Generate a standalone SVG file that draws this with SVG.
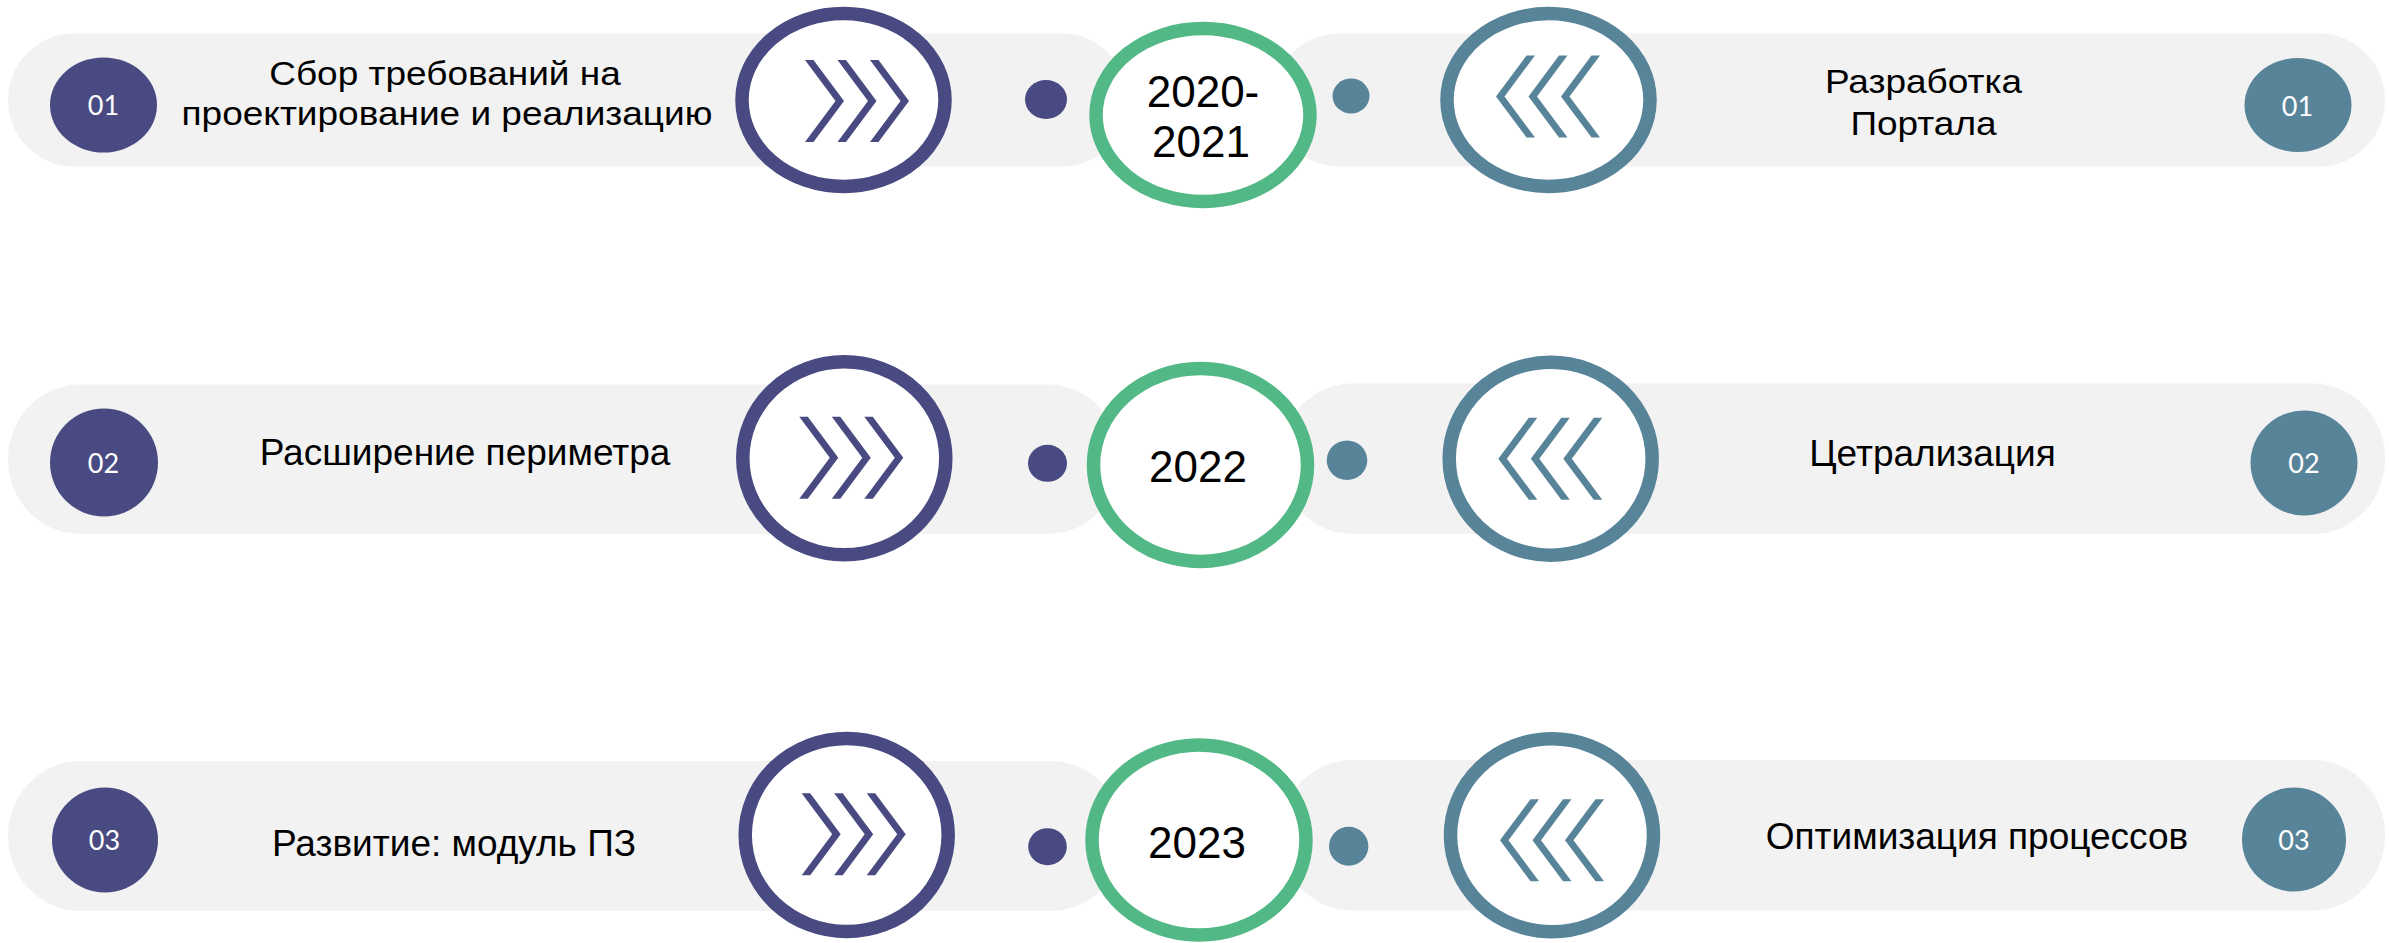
<svg xmlns="http://www.w3.org/2000/svg" xmlns:xlink="http://www.w3.org/1999/xlink" width="2389" height="943" viewBox="0 0 2389 943">
<style>
.pill{fill:#F2F2F2}
.pu{fill:#494A82}
.te{fill:#58849A}
.ringP{fill:#FFFFFF;stroke:#494A82;stroke-width:13.5}
.ringT{fill:#FFFFFF;stroke:#58849A;stroke-width:13.5}
.ringG{fill:#FFFFFF;stroke:#52B886;stroke-width:13.5}
.lbl{font-family:"Liberation Sans",Arial,sans-serif;font-size:37px;fill:#000000;text-anchor:middle}
.yr{font-family:"Liberation Sans",Arial,sans-serif;font-size:44px;fill:#000000;text-anchor:middle}
.num{font-family:Lato,"Open Sans",sans-serif;font-size:27px;fill:#FFFFFF;text-anchor:middle}
</style>
<defs>
<g id="chevR">
<polygon points="0,0 8.5,0 39,41 8.5,82 0,82 30.5,41"/>
<polygon points="32.5,0 41,0 71.5,41 41,82 32.5,82 63,41"/>
<polygon points="65,0 73.5,0 104,41 73.5,82 65,82 95.5,41"/>
</g>
<g id="chevL">
<polygon points="39,0 30.5,0 0,41 30.5,82 39,82 8.5,41"/>
<polygon points="71.5,0 63,0 32.5,41 63,82 71.5,82 41,41"/>
<polygon points="104,0 95.5,0 65,41 95.5,82 104,82 73.5,41"/>
</g>
</defs>
<rect width="2389" height="943" fill="#FFFFFF"/>

<!-- Row 1 -->
<g id="row1-left">
<rect class="pill" x="8" y="33.5" width="1120" height="133" rx="66" ry="66.5"/>
<ellipse class="pu" cx="103.5" cy="105" rx="53.5" ry="47.5"/>
<text class="num" x="103.5" y="115">01</text>
<text class="lbl" transform="translate(445,85) scale(1,0.9)">Сбор требований на</text>
<text class="lbl" transform="translate(447,125) scale(1,0.9)">проектирование и реализацию</text>
</g>
<g id="row1-left-chevron">
<ellipse class="ringP" cx="843.5" cy="100" rx="101.5" ry="86.5"/>
<use xlink:href="#chevR" href="#chevR" class="pu" transform="translate(805,60)"/>
</g>
<g id="row1-right">
<rect class="pill" x="1273" y="33.5" width="1112" height="133" rx="66" ry="66.5"/>
<ellipse class="te" cx="2298" cy="105" rx="53.5" ry="47"/>
<text class="num" x="2297.5" y="115.5">01</text>
<text class="lbl" transform="translate(1923.5,92.7) scale(1,0.9)">Разработка</text>
<text class="lbl" transform="translate(1923.5,135) scale(1,0.9)">Портала</text>
</g>
<g id="row1-right-chevron">
<ellipse class="ringT" cx="1548.5" cy="100" rx="101.5" ry="86.5"/>
<use xlink:href="#chevL" href="#chevL" class="te" transform="translate(1496,55.5)"/>
</g>
<g id="row1-dots">
<ellipse class="pu" cx="1046" cy="99.5" rx="21" ry="19.5"/>
<ellipse class="te" cx="1351" cy="96" rx="18.5" ry="17.5"/>
</g>
<g id="row1-year">
<ellipse class="ringG" cx="1203" cy="115" rx="107" ry="86.5"/>
<text class="yr" x="1203" y="106.7">2020-</text>
<text class="yr" x="1201" y="156.7">2021</text>
</g>

<!-- Row 2 -->
<g id="row2-left">
<rect class="pill" x="8" y="384.5" width="1112" height="149.5" rx="72" ry="74.75"/>
<ellipse class="pu" cx="104" cy="462.5" rx="54" ry="54"/>
<text class="num" x="103.5" y="472.5">02</text>
<text class="lbl" x="465" y="465">Расширение периметра</text>
</g>
<g id="row2-left-chevron">
<ellipse class="ringP" cx="844.3" cy="458.3" rx="101.5" ry="96.5"/>
<use xlink:href="#chevR" href="#chevR" class="pu" transform="translate(799.3,416.7)"/>
</g>
<g id="row2-right">
<rect class="pill" x="1280" y="383.5" width="1105" height="150.5" rx="72" ry="75"/>
<ellipse class="te" cx="2304" cy="463" rx="53.5" ry="52.5"/>
<text class="num" x="2304" y="473">02</text>
<text class="lbl" x="1932.5" y="466">Цетрализация</text>
</g>
<g id="row2-right-chevron">
<ellipse class="ringT" cx="1550.7" cy="458.7" rx="101.5" ry="96.5"/>
<use xlink:href="#chevL" href="#chevL" class="te" transform="translate(1498.3,417.7)"/>
</g>
<g id="row2-dots">
<ellipse class="pu" cx="1047.5" cy="463.3" rx="19.5" ry="18.5"/>
<ellipse class="te" cx="1347" cy="460.3" rx="20.3" ry="19.7"/>
</g>
<g id="row2-year">
<ellipse class="ringG" cx="1200.5" cy="465" rx="107" ry="96.5"/>
<text class="yr" x="1198" y="481.7">2022</text>
</g>

<!-- Row 3 -->
<g id="row3-left">
<rect class="pill" x="8" y="761" width="1115" height="150" rx="72" ry="75"/>
<ellipse class="pu" cx="105" cy="840" rx="53" ry="52.5"/>
<text class="num" x="104.5" y="850">03</text>
<text class="lbl" x="454" y="856">Развитие: модуль ПЗ</text>
</g>
<g id="row3-left-chevron">
<ellipse class="ringP" cx="846.7" cy="835" rx="101.5" ry="96.5"/>
<use xlink:href="#chevR" href="#chevR" class="pu" transform="translate(801.7,793.3)"/>
</g>
<g id="row3-right">
<rect class="pill" x="1280" y="760" width="1105" height="150.5" rx="72" ry="75"/>
<ellipse class="te" cx="2294" cy="839.5" rx="52" ry="52"/>
<text class="num" x="2294" y="849.5">03</text>
<text class="lbl" x="1977" y="849">Оптимизация процессов</text>
</g>
<g id="row3-right-chevron">
<ellipse class="ringT" cx="1552" cy="835.3" rx="101.5" ry="96.5"/>
<use xlink:href="#chevL" href="#chevL" class="te" transform="translate(1500,799.3)"/>
</g>
<g id="row3-dots">
<ellipse class="pu" cx="1047.5" cy="846.7" rx="19.3" ry="18.5"/>
<ellipse class="te" cx="1348.7" cy="846.3" rx="19.7" ry="19.5"/>
</g>
<g id="row3-year">
<ellipse class="ringG" cx="1199" cy="840" rx="107" ry="95"/>
<text class="yr" x="1197" y="858.3">2023</text>
</g>
</svg>
